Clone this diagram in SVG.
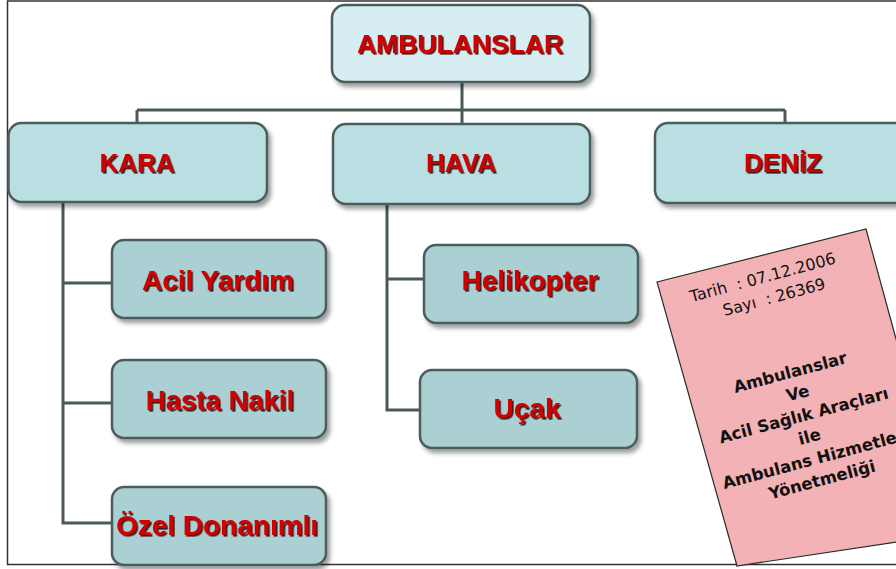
<svg xmlns="http://www.w3.org/2000/svg" width="896" height="569" viewBox="0 0 896 569">
<defs>
<filter id="bs" x="-10%" y="-10%" width="130%" height="140%"><feDropShadow dx="3" dy="4" stdDeviation="2" flood-color="#000" flood-opacity="0.38"/></filter>
<filter id="ts" x="-10%" y="-20%" width="120%" height="150%"><feDropShadow dx="1.6" dy="1.6" stdDeviation="0.4" flood-color="#3a0000" flood-opacity="0.9"/></filter>
<style>
.box{stroke:#4c5c5c;stroke-width:2.5;filter:url(#bs)}
.top{fill:#d6eef1}
.mid{fill:#b9dfe3}
.leaf{fill:#abd0d3}
.lbl{font-family:"Liberation Sans",Arial,sans-serif;font-weight:bold;fill:#d10000;text-anchor:middle;filter:url(#ts)}
.con{fill:none;stroke:#4a5858;stroke-width:3}
.doc{font-family:"DejaVu Sans",Verdana,sans-serif;font-size:16px;fill:#111;text-anchor:middle}
.docb{font-family:"DejaVu Sans",Verdana,sans-serif;font-size:16.5px;font-weight:bold;fill:#111;text-anchor:middle}
</style>
</defs>
<rect x="0" y="0" width="896" height="569" fill="#fff"/>
<rect x="7.5" y="1" width="900" height="563.5" fill="#fff" stroke="#333" stroke-width="1.5"/>
<g id="connectors">
<path class="con" d="M462 82V110M137 110H785M137 110V123M462 110V123M785 110V123"/>
<path class="con" d="M63 202V523H112M63 283H112M63 403H112"/>
<path class="con" d="M387 204V410H420M387 279H424"/>
</g>
<g id="n-ambulanslar"><rect class="box top" x="332" y="5" width="258" height="77" rx="13"/><text class="lbl" x="460" y="53" font-size="26.5">AMBULANSLAR</text></g>
<g id="n-kara"><rect class="box mid" x="8.5" y="123" width="258.5" height="79" rx="13"/><text class="lbl" x="137" y="172" font-size="26">KARA</text></g>
<g id="n-hava"><rect class="box mid" x="333" y="124" width="257" height="80" rx="13"/><text class="lbl" x="461" y="172" font-size="26">HAVA</text></g>
<g id="n-deniz"><rect class="box mid" x="655" y="123" width="260" height="80" rx="13"/><text class="lbl" x="783" y="172" font-size="26">DENİZ</text></g>
<g id="n-acil"><rect class="box leaf" x="112" y="240" width="214" height="78" rx="12"/><text class="lbl" x="218" y="290" font-size="28">Acil Yardım</text></g>
<g id="n-hasta"><rect class="box leaf" x="112" y="360" width="214" height="78" rx="12"/><text class="lbl" x="220" y="410" font-size="27.5">Hasta Nakil</text></g>
<g id="n-ozel"><rect class="box leaf" x="112" y="487" width="214" height="78" rx="12"/><text class="lbl" x="217" y="535" font-size="28">Özel Donanımlı</text></g>
<g id="n-helikopter"><rect class="box leaf" x="424" y="245" width="214" height="78" rx="12"/><text class="lbl" x="530" y="290" font-size="28">Helikopter</text></g>
<g id="n-ucak"><rect class="box leaf" x="420" y="370" width="217" height="78" rx="12"/><text class="lbl" x="527" y="418" font-size="28">Uçak</text></g>
<g id="document">
<polygon points="657,282 866,229 940,500 910,540 737,566" fill="#f2b2b6" stroke="#2a2a2a" stroke-width="1.2"/>
<g transform="translate(790,372) rotate(-15)">
<text class="doc" x="-2" y="-93" xml:space="preserve">Tarih  : 07.12.2006</text>
<text class="doc" x="4" y="-71" xml:space="preserve">Sayı  : 26369</text>
<text class="docb" x="0" y="6">Ambulanslar</text>
<text class="docb" x="2" y="28">Ve</text>
<text class="docb" x="2" y="51">Acil Sağlık Araçları</text>
<text class="docb" x="2" y="73">ile</text>
<text class="docb" x="3" y="96">Ambulans Hizmetleri</text>
<text class="docb" x="3" y="118">Yönetmeliği</text>
</g>
</g>
</svg>
